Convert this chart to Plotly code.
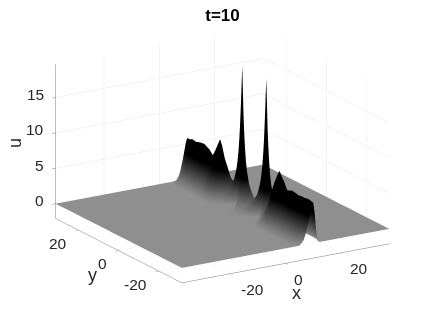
import numpy as np
import plotly.graph_objects as go

x_grid = [-37.5,-20,-8,-2,0,1,2,3,4,5,6,6.5,7,7.5,8,8.5,9,9.25,9.5,9.75,10,10.25,10.5,10.75,11,11.25,11.5,
          11.75,12,12.25,12.5,12.75,13,13.5,14,15,20,37.5]
y_rows = [31.5,30,29,27,25,23,21,20,18.7,18,17,16,15,14,13,12,11,10,9,8,7.5,7,6.5,6.25,6,5.75,5.5,5,4.5,4,3,2,1,0,
          -1,-2,-3,-4,-4.5,-5,-5.5,-5.75,-6,-6.25,-6.5,-7,-7.5,-8,-9,-10,-11,-12,-13,-14,-14.7,-16,-17,-18,-18.7,
          -20,-21,-23,-24,-26,-27.7,-29,-30.7,-31.5]
crest_u = [5.8,5.8,6.0,5.9,6.1,6.2,5.9,5.7,5.2,5.6,6.4,7.2,8.0,7.2,6.0,4.8,3.5,2.8,3.5,5.5,7,9.5,13.5,16.5,19.5,16.5,13.5,9.5,7,5.5,3.5,2.6,1.9,1.6,
           1.9,2.6,3.5,5.5,7,9.5,13.5,16.5,19.5,16.5,13.5,9.5,7,5.5,3.5,2.8,4.8,5.8,6.6,7.4,7.8,7.0,6.6,5.9,5.6,
           5.8,5.9,5.8,5.7,5.8,5.8,5.9,5.8,5.7]
crest_x = [10,10,10,10,10,10,10,10,10,10,10,10,10,10,10,10.3,10.6,11,11.5,11.5,11.5,11.5,11.5,11.5,11.5,11.5,11.5,11.5,11.5,11.5,11.5,11.5,11.5,11.5,
           11.5,11.5,11.5,11.5,11.5,11.5,11.5,11.5,11.5,11.5,11.5,11.5,11.5,11.5,11.5,11,10.6,10.3,10,10,10,10,10,10,10,
           10,10,10,10,10,10,10,10,10]
row_width = [.6,.8,1,1,1,1,1,1,1,1,1,1,1,1,1,1,1,1,.9,.7,.6,.5,.4,.35,.3,.35,.4,.5,.6,.7,.9,1.1,1.2,1.2,
             1.2,1.1,.9,.7,.6,.5,.4,.35,.3,.35,.4,.5,.6,.7,.9,1,1,1,1,1,1,1,1,1,1,
             1,1,1,1,1,1,1,.8,.7]
profile_offset = [-12,-7,-6,-5,-4,-3,-2,-1,0,.5,1,1.5,2,2.5,3.5]
profile_share = [0,0,.05,.12,.25,.42,.62,.85,1,.85,.6,.3,.12,.03,0]

x_ticks = [-20,0,20]
y_ticks = [-20,0,20]
z_ticks = [0,5,10,15]

x = np.array(x_grid, float)
order = np.argsort(y_rows)
y = np.array(y_rows, float)[order]
u = np.array([c*np.interp((x-cx)/w, profile_offset, profile_share)
              for c, cx, w in zip(crest_u, crest_x, row_width)])[order]

x_min, x_max, y_min, y_max, z_min, z_max = -37.5, 37.5, -31.5, 31.5, -2.1, 19.7

axis_common = dict(showbackground=True, backgroundcolor="white", gridcolor="#e6e6e6", gridwidth=1,
                   zeroline=False, showline=True, linecolor="#7a7a7a", linewidth=1, ticks="outside",
                   ticklen=4, tickcolor="#7a7a7a", showspikes=False, title=dict(text=""),
                   showticklabels=False, tickmode="array")

tick_font = dict(family="Liberation Sans", size=15.5, color="#262626")
label_font = dict(family="Liberation Sans", size=18, color="#262626")

tick_notes = []
for t, sx in zip(x_ticks, [22, 13, 18]):
    tick_notes.append(dict(x=t, y=y_min, z=z_min, text=str(t), showarrow=False, xanchor="center", yanchor="middle",
                           xshift=sx, yshift=-16, font=tick_font))
for t, sx in zip(y_ticks, [-23, -16, -21]):
    tick_notes.append(dict(x=x_min, y=t, z=z_min, text=str(t), showarrow=False, xanchor="center", yanchor="middle",
                           xshift=sx, yshift=-13, font=tick_font))
for t in z_ticks:
    tick_notes.append(dict(x=x_min, y=y_max, z=t, text=str(t), showarrow=False, xanchor="right", yanchor="middle",
                           xshift=-10, yshift=3, font=tick_font))

cz = -0.089
dist = 1.6
k = 1.523
fig = go.Figure(go.Surface(x=x, y=y, z=u, cmin=0, cmax=4,
    colorscale=[[0,"#8f8f8f"],[1,"#000000"]], showscale=False, hoverinfo="skip",
    lighting=dict(ambient=1, diffuse=0, specular=0, fresnel=0, roughness=1)))
fig.update_layout(
    width=429, height=319, margin=dict(l=0,r=0,t=0,b=0), paper_bgcolor="white",
    title=dict(text="<b>t=10</b>", x=0.5, xanchor="center", y=1-7/319, yanchor="middle",
               font=dict(family="Liberation Sans", size=17, color="black")),
    scene=dict(
        domain=dict(x=[0,1], y=[0,1]),
        xaxis=dict(axis_common, range=[x_min,x_max], tickvals=x_ticks),
        yaxis=dict(axis_common, range=[y_min,y_max], tickvals=y_ticks),
        zaxis=dict(axis_common, range=[z_min,z_max], tickvals=z_ticks),
        aspectmode="manual", aspectratio=dict(x=k,y=k,z=0.668*k),
        camera=dict(projection=dict(type="orthographic"), up=dict(x=0,y=0,z=1),
                    center=dict(x=0,y=0,z=cz),
                    eye=dict(x=-0.52*0.951*dist, y=-0.855*0.951*dist, z=cz+0.31*dist)),
        annotations=tick_notes,
    ),
    annotations=[
        dict(text="u", x=7/429, y=1-135/319, xref="paper", yref="paper", showarrow=False, textangle=-90,
             xanchor="center", yanchor="middle", font=label_font),
        dict(text="x", x=288/429, y=1-285/319, xref="paper", yref="paper", showarrow=False,
             xanchor="center", yanchor="middle", font=label_font),
        dict(text="y", x=84/429, y=1-267/319, xref="paper", yref="paper", showarrow=False,
             xanchor="center", yanchor="middle", font=label_font),
    ],
)
fig.write_html("out.html", config=dict(displayModeBar=False))
